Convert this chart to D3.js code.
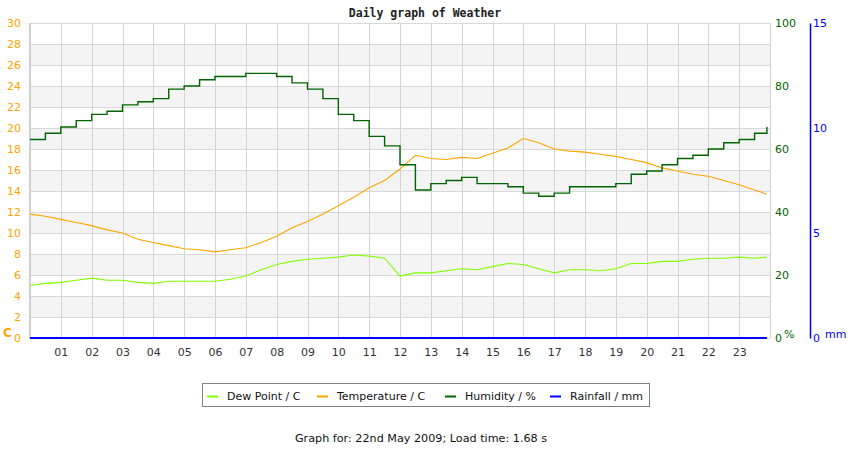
<!DOCTYPE html>
<html>
<head>
<meta charset="utf-8">
<script src="https://cdn.jsdelivr.net/npm/d3@7"></script>
<style>
  body { margin: 0; background: #fff; }
  text { font-family: "DejaVu Sans", sans-serif; }
</style>
</head>
<body>
<div id="chart"></div>
<script>
// readings every half hour
var hours = [0, 0.5, 1, 1.5, 2, 2.5, 3, 3.5, 4, 4.5, 5, 5.5, 6, 6.5, 7, 7.5, 8, 8.5, 9, 9.5,
  10, 10.5, 11, 11.5, 12, 12.5, 13, 13.5, 14, 14.5, 15, 15.5, 16, 16.5, 17, 17.5, 18, 18.5, 19, 19.5,
  20, 20.5, 21, 21.5, 22, 22.5, 23, 23.5, 23.9];

var dewPoint = [5.0, 5.2, 5.3, 5.5, 5.7, 5.5, 5.5, 5.3, 5.2, 5.4, 5.4, 5.4, 5.4, 5.6, 5.9, 6.5, 7.0, 7.3, 7.5, 7.6,
  7.7, 7.9, 7.8, 7.6, 5.9, 6.2, 6.2, 6.4, 6.6, 6.5, 6.8, 7.1, 7.0, 6.6, 6.2, 6.5, 6.5, 6.4, 6.6, 7.1,
  7.1, 7.3, 7.3, 7.5, 7.6, 7.6, 7.7, 7.6, 7.7];

var temperature = [11.8, 11.6, 11.3, 11.0, 10.7, 10.3, 10.0, 9.4, 9.1, 8.8, 8.5, 8.4, 8.2, 8.4, 8.6, 9.1, 9.7, 10.5, 11.1, 11.8,
  12.6, 13.4, 14.3, 15.0, 16.1, 17.4, 17.1, 17.0, 17.2, 17.1, 17.6, 18.1, 19.0, 18.6, 18.0, 17.8, 17.7, 17.5, 17.3, 17.0,
  16.7, 16.2, 15.9, 15.6, 15.4, 15.0, 14.6, 14.1, 13.7];

var humidity = [63, 65, 67, 69, 71, 72, 74, 75, 76, 79, 80, 82, 83, 83, 84, 84, 83, 81, 79, 76,
  71, 69, 64, 61, 55, 47, 49, 50, 51, 49, 49, 48, 46, 45, 46, 48, 48, 48, 49, 52,
  53, 55, 57, 58, 60, 62, 63, 65, 67];

var rainfall = [0, 0, 0, 0, 0, 0, 0, 0, 0, 0, 0, 0, 0, 0, 0, 0, 0, 0, 0, 0,
  0, 0, 0, 0, 0, 0, 0, 0, 0, 0, 0, 0, 0, 0, 0, 0, 0, 0, 0, 0,
  0, 0, 0, 0, 0, 0, 0, 0, 0];

var hourTicks = d3.range(1, 24);
var tempTicks = d3.range(0, 31, 2);
var humTicks = [0, 20, 40, 60, 80, 100];
var rainTicks = [0, 5, 10, 15];

var series = [
  { name: "Dew Point / C", values: dewPoint, color: "#80ff00", axis: "t" },
  { name: "Temperature / C", values: temperature, color: "#ffa500", axis: "t" },
  { name: "Humidity / %", values: humidity, color: "#006400", axis: "h" },
  { name: "Rainfall / mm", values: rainfall, color: "#0000ff", axis: "r" }
];

var width = 850, height = 450;
var plotLeft = 30, plotRight = 770, plotTop = 23, plotBottom = 338;

var svg = d3.select("#chart").append("svg")
  .attr("width", width)
  .attr("height", height);

var x = d3.scaleLinear().domain([0, 24]).range([plotLeft, plotRight]);
var yT = d3.scaleLinear().domain([0, 30]).range([plotBottom, plotTop]);
var yH = d3.scaleLinear().domain([0, 100]).range([plotBottom, plotTop]);
var yR = d3.scaleLinear().domain([0, 15]).range([plotBottom, plotTop]);
var scales = { t: yT, h: yH, r: yR };

// alternating bands
svg.append("g").selectAll("rect")
  .data(d3.range(2, 30, 4))
  .enter().append("rect")
  .attr("x", plotLeft)
  .attr("width", plotRight - plotLeft)
  .attr("y", function (d) { return yT(d + 2); })
  .attr("height", function (d) { return yT(d) - yT(d + 2); })
  .style("fill", "#f4f4f4");

// grid
svg.append("g").selectAll("line")
  .data(tempTicks)
  .enter().append("line")
  .attr("x1", plotLeft).attr("x2", plotRight)
  .attr("y1", function (d) { return Math.round(yT(d)) + 0.5; })
  .attr("y2", function (d) { return Math.round(yT(d)) + 0.5; })
  .style("stroke", "#d9d9d9");

svg.append("g").selectAll("line")
  .data(hourTicks)
  .enter().append("line")
  .attr("x1", function (d) { return Math.round(x(d)) + 0.5; })
  .attr("x2", function (d) { return Math.round(x(d)) + 0.5; })
  .attr("y1", plotTop).attr("y2", plotBottom)
  .style("stroke", "#d4d4d4");

// frame
svg.append("line")
  .attr("x1", plotLeft).attr("x2", plotLeft).attr("y1", plotTop).attr("y2", plotBottom + 1)
  .style("stroke", "#d0d0d0").style("stroke-width", 2);
svg.append("line")
  .attr("x1", plotRight + 0.5).attr("x2", plotRight + 0.5).attr("y1", plotTop).attr("y2", plotBottom)
  .style("stroke", "#d0d0d0");

// lines: humidity comes in whole percents so it steps, the rest run smoother
series.forEach(function (s) {
  var line = d3.line()
    .curve(s.axis == "h" ? d3.curveStepAfter : d3.curveLinear)
    .x(function (d, i) { return x(hours[i]); })
    .y(function (d) { return scales[s.axis](d); });
  svg.append("path")
    .datum(s.values)
    .attr("d", line)
    .style("fill", "none")
    .style("stroke", s.color)
    .style("stroke-width", s.axis == "h" ? 1.4 : (s.axis == "r" ? 2 : 1.1));
});

// axes
var xAxis = svg.append("g")
  .attr("transform", "translate(0," + plotBottom + ")")
  .call(d3.axisBottom(x).tickValues(hourTicks).tickSize(0).tickPadding(10)
    .tickFormat(d3.format("02d")));
xAxis.select(".domain").remove();
xAxis.selectAll("text").style("fill", "#333").style("font-size", "11px");

var tAxis = svg.append("g")
  .attr("transform", "translate(" + plotLeft + ",0)")
  .call(d3.axisLeft(yT).tickValues(tempTicks).tickSize(0).tickPadding(9));
tAxis.select(".domain").remove();
tAxis.selectAll("text").style("fill", "#ffa500").style("font-size", "11px");

var hAxis = svg.append("g")
  .attr("transform", "translate(" + plotRight + ",0)")
  .call(d3.axisRight(yH).tickValues(humTicks).tickSize(0).tickPadding(5));
hAxis.select(".domain").remove();
hAxis.selectAll("text").style("fill", "#006400").style("font-size", "11px");

var rAxis = svg.append("g")
  .attr("transform", "translate(810,0)")
  .call(d3.axisRight(yR).tickValues(rainTicks).tickSize(0).tickPadding(3));
rAxis.select(".domain").style("stroke", "#0000ff").style("stroke-width", 1.5);
rAxis.selectAll("text").style("fill", "#0000ff").style("font-size", "11px");

// unit labels
svg.append("text").attr("x", 3).attr("y", 337).text("C")
  .style("fill", "#ffa500").style("font-weight", "bold").style("font-size", "12px");
svg.append("text").attr("x", 784).attr("y", 338).text("%")
  .style("fill", "#006400").style("font-size", "11px");
svg.append("text").attr("x", 825).attr("y", 338).text("mm")
  .style("fill", "#0000ff").style("font-size", "11px");

// title
svg.append("text")
  .attr("x", 425).attr("y", 17)
  .attr("text-anchor", "middle")
  .style("font-family", "'DejaVu Sans Mono', monospace")
  .style("font-weight", "bold")
  .style("font-size", "11.5px")
  .style("fill", "#222")
  .text("Daily graph of Weather");

// legend
svg.append("rect")
  .attr("x", 202.5).attr("y", 383.5)
  .attr("width", 447).attr("height", 23)
  .style("fill", "#fff").style("stroke", "#808080");

var legendX = [207, 317, 445, 550];
var legend = svg.append("g").selectAll("g")
  .data(series)
  .enter().append("g")
  .attr("transform", function (d, i) { return "translate(" + legendX[i] + ",396)"; });
legend.append("line")
  .attr("x1", 0).attr("x2", 11).attr("y1", 0.5).attr("y2", 0.5)
  .style("stroke", function (d) { return d.color; })
  .style("stroke-width", 2);
legend.append("text")
  .attr("x", 20).attr("y", 4)
  .style("font-size", "11px")
  .style("fill", "#111")
  .text(function (d) { return d.name; });

// footer
svg.append("text")
  .attr("x", 421).attr("y", 442)
  .attr("text-anchor", "middle")
  .style("font-size", "11.2px")
  .style("fill", "#111")
  .text("Graph for: 22nd May 2009; Load time: 1.68 s");
</script>
</body>
</html>
